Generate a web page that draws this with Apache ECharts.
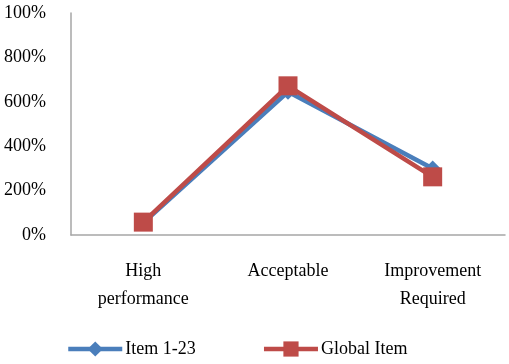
<!DOCTYPE html>
<html>
<head>
<meta charset="utf-8">
<script src="https://cdn.jsdelivr.net/npm/echarts@6/dist/echarts.min.js"></script>
<style>
  html, body { margin: 0; padding: 0; background: #fff; }
  #chart { width: 509px; height: 364px; }
</style>
</head>
<body>
<div id="chart"></div>
<script>
// categories and values
const categories = ['High\nperformance', 'Acceptable', 'Improvement\nRequired'];
const item123 = [55, 645, 300];
const globalItem = [58, 672, 262];
const yTickValues = [0, 200, 400, 600, 800, 1000];
const yTickLabels = ['0%', '200%', '400%', '600%', '800%', '100%'];

const chart = echarts.init(document.getElementById('chart'));
const font = 'Liberation Serif';

const option = {
  animation: false,
  grid: { left: 71, right: 4, top: 13, bottom: 129 },
  legend: {
    left: 61,
    bottom: 1,
    itemWidth: 54,
    itemHeight: 19,
    itemGap: 66,
    lineStyle: { width: 4.5 },
    textStyle: { fontFamily: font, fontSize: 18, color: '#000', padding: [0, 0, 0, -2] },
    data: ['Item 1-23', 'Global Item']
  },
  xAxis: {
    type: 'category',
    data: categories,
    axisLine: { lineStyle: { color: '#a6a6a6', width: 1.5 } },
    axisTick: { show: false },
    axisLabel: {
      fontFamily: font, fontSize: 18, color: '#000',
      margin: 22, lineHeight: 28
    }
  },
  yAxis: {
    type: 'value',
    min: 0,
    max: 1000,
    interval: 200,
    splitLine: { show: false },
    axisTick: { show: false },
    axisLine: { show: true, lineStyle: { color: '#a6a6a6', width: 1.5 } },
    axisLabel: {
      fontFamily: font, fontSize: 18, color: '#000', margin: 25,
      formatter: v => yTickLabels[yTickValues.indexOf(v)]
    }
  },
  series: [
    {
      name: 'Item 1-23',
      type: 'line',
      data: item123,
      symbol: 'diamond',
      symbolSize: 16,
      itemStyle: { color: '#4a7ebb' },
      lineStyle: { color: '#4a7ebb', width: 4.5 }
    },
    {
      name: 'Global Item',
      type: 'line',
      data: globalItem,
      symbol: 'rect',
      symbolSize: 19,
      itemStyle: { color: '#be4b48' },
      lineStyle: { color: '#be4b48', width: 4.5 }
    }
  ]
};

chart.setOption(option);
window.addEventListener('resize', () => chart.resize());
</script>
</body>
</html>
